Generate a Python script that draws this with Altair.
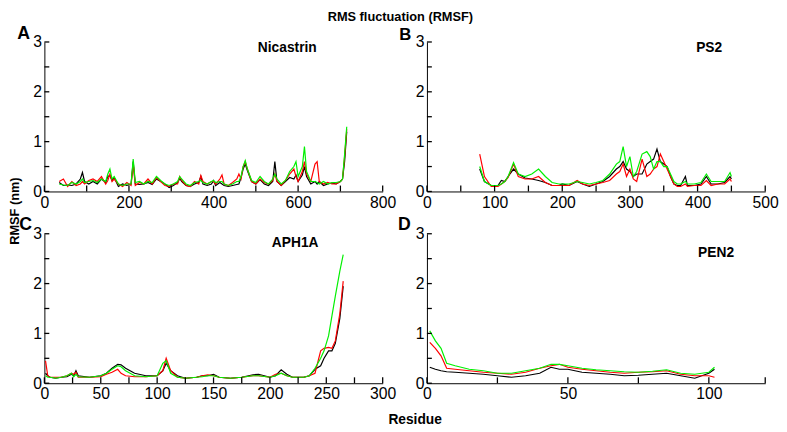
import altair as alt
import pandas as pd

FONT = "Liberation Sans"
W, H = 344, 152

# ---------------- data ----------------
NIC_X = [35, 45, 55, 65, 75, 85, 90, 95, 105, 115,
         125, 135, 145, 150, 155, 160, 165, 175, 185, 195,
         205, 210, 215, 225, 235, 245, 255, 265, 275, 285,
         295, 305, 315, 320, 325, 335, 345, 355, 365, 370,
         375, 385, 395, 400, 405, 415, 420, 425, 435, 445,
         455, 460, 465, 470, 475, 480, 490, 500, 510, 520,
         530, 540, 545, 550, 560, 570, 580, 590, 595, 600,
         610, 615, 620, 630, 640, 645, 650, 660, 670, 680,
         690, 700, 705, 710, 715]
NIC_BLACK = [0.18, 0.12, 0.13, 0.12, 0.15, 0.25, 0.38, 0.2, 0.15, 0.2,
             0.15, 0.25, 0.18, 0.3, 0.32, 0.22, 0.28, 0.1, 0.15, 0.12,
             0.15, 0.6, 0.15, 0.14, 0.15, 0.18, 0.14, 0.25, 0.2, 0.15,
             0.08, 0.12, 0.18, 0.26, 0.2, 0.12, 0.1, 0.15, 0.18, 0.3,
             0.15, 0.12, 0.15, 0.22, 0.12, 0.18, 0.15, 0.12, 0.1, 0.12,
             0.14, 0.15, 0.28, 0.45, 0.55, 0.42, 0.2, 0.15, 0.24, 0.15,
             0.12, 0.2, 0.6, 0.2, 0.12, 0.2, 0.28, 0.25, 0.33, 0.2,
             0.33, 0.5, 0.3, 0.15, 0.2, 0.15, 0.2, 0.12, 0.15, 0.17,
             0.15, 0.2, 0.25, 0.6, 1.2]
NIC_RED = [0.2, 0.25, 0.1, 0.2, 0.12, 0.15, 0.2, 0.15, 0.22, 0.25,
           0.2, 0.3, 0.15, 0.22, 0.35, 0.2, 0.25, 0.15, 0.1, 0.18,
           0.12, 0.55, 0.12, 0.18, 0.15, 0.25, 0.15, 0.28, 0.2, 0.12,
           0.1, 0.15, 0.15, 0.3, 0.22, 0.12, 0.1, 0.2, 0.15, 0.32,
           0.2, 0.15, 0.2, 0.2, 0.15, 0.25, 0.33, 0.15, 0.12, 0.18,
           0.25, 0.35, 0.25, 0.5, 0.6, 0.45, 0.2, 0.15, 0.25, 0.18,
           0.15, 0.22, 0.35, 0.2, 0.12, 0.22, 0.35, 0.45, 0.3, 0.2,
           0.4, 0.6, 0.35, 0.2, 0.55, 0.6, 0.2, 0.15, 0.18, 0.15,
           0.15, 0.2, 0.25, 0.7, 1.25]
NIC_GREEN = [0.15, 0.13, 0.12, 0.18, 0.15, 0.2, 0.25, 0.18, 0.2, 0.22,
             0.18, 0.25, 0.2, 0.35, 0.45, 0.25, 0.3, 0.15, 0.12, 0.15,
             0.15, 0.65, 0.18, 0.2, 0.15, 0.2, 0.18, 0.3, 0.22, 0.15,
             0.12, 0.15, 0.2, 0.3, 0.25, 0.15, 0.12, 0.18, 0.2, 0.22,
             0.18, 0.15, 0.2, 0.22, 0.18, 0.2, 0.2, 0.15, 0.12, 0.15,
             0.2, 0.2, 0.3, 0.5, 0.62, 0.45, 0.22, 0.18, 0.3, 0.2,
             0.15, 0.25, 0.35, 0.25, 0.15, 0.22, 0.4, 0.5, 0.6, 0.3,
             0.5, 0.9, 0.4, 0.2, 0.2, 0.18, 0.15, 0.2, 0.15, 0.18,
             0.18, 0.2, 0.25, 0.75, 1.3]

PS2_X = [78, 85, 95, 105, 110, 115, 120, 128, 135, 145,
         155, 165, 175, 185, 195, 200, 210, 222, 230, 240,
         250, 260, 270, 280, 285, 290, 295, 300, 305, 310,
         318, 325, 330, 335, 340, 345, 350, 355, 360, 365,
         370, 375, 382, 385, 395, 405, 413, 420, 430, 440,
         448, 450]
PS2_BLACK = [0.45, 0.2, 0.12, 0.12, 0.22, 0.2, 0.3, 0.45, 0.35, 0.27,
             0.25, 0.22, 0.18, 0.12, 0.12, 0.15, 0.12, 0.2, 0.15, 0.1,
             0.15, 0.2, 0.3, 0.45, 0.5, 0.6, 0.45, 0.4, 0.3, 0.35,
             0.35, 0.55, 0.6, 0.65, 0.85, 0.6, 0.55, 0.5, 0.3, 0.15,
             0.12, 0.12, 0.3, 0.12, 0.12, 0.15, 0.3, 0.15, 0.15, 0.18,
             0.3, 0.25]
PS2_RED = [0.75, 0.3, 0.1, 0.1, 0.15, 0.2, 0.28, 0.55, 0.3, 0.25,
           0.25, 0.3, 0.18, 0.12, 0.12, 0.12, 0.12, 0.22, 0.15, 0.12,
           0.15, 0.18, 0.22, 0.35, 0.4, 0.55, 0.3, 0.45, 0.25, 0.2,
           0.65, 0.3, 0.35, 0.45, 0.5, 0.75, 0.6, 0.45, 0.3, 0.15,
           0.1, 0.1, 0.15, 0.1, 0.12, 0.12, 0.22, 0.12, 0.15, 0.15,
           0.25, 0.2]
PS2_GREEN = [0.5, 0.2, 0.12, 0.12, 0.15, 0.2, 0.3, 0.58, 0.35, 0.3,
             0.35, 0.45, 0.3, 0.18, 0.15, 0.15, 0.15, 0.2, 0.18, 0.15,
             0.18, 0.22, 0.35, 0.55, 0.6, 0.9, 0.5, 0.7, 0.3, 0.4,
             0.75, 0.8, 0.7, 0.45, 0.6, 0.6, 0.5, 0.5, 0.35, 0.2,
             0.15, 0.15, 0.2, 0.15, 0.15, 0.18, 0.35, 0.2, 0.2, 0.2,
             0.38, 0.3]

APH_X = [1, 3, 5, 10, 15, 20, 24, 26, 28, 30,
         40, 50, 55, 60, 65, 68, 72, 80, 90, 100,
         105, 108, 112, 118, 125, 135, 140, 145, 150, 155,
         165, 175, 185, 190, 200, 205, 210, 215, 220, 230,
         235, 240, 245, 248, 252, 255, 258, 262, 265]
APH_BLACK = [0.2, 0.15, 0.12, 0.1, 0.12, 0.13, 0.18, 0.15, 0.25, 0.15,
             0.12, 0.15, 0.2, 0.3, 0.38, 0.37, 0.3, 0.2, 0.15, 0.15,
             0.25, 0.4, 0.25, 0.15, 0.1, 0.12, 0.15, 0.15, 0.18, 0.12,
             0.1, 0.12, 0.17, 0.18, 0.12, 0.15, 0.27, 0.18, 0.12, 0.12,
             0.15, 0.28, 0.35, 0.5, 0.65, 0.65, 0.8, 1.3, 1.95]
APH_RED = [0.45, 0.15, 0.12, 0.12, 0.12, 0.15, 0.2, 0.18, 0.22, 0.12,
           0.12, 0.13, 0.18, 0.22, 0.28, 0.2, 0.15, 0.13, 0.13, 0.15,
           0.25, 0.5, 0.25, 0.12, 0.1, 0.12, 0.15, 0.17, 0.15, 0.12,
           0.1, 0.12, 0.15, 0.15, 0.12, 0.18, 0.2, 0.15, 0.12, 0.12,
           0.15, 0.2, 0.65, 0.7, 0.72, 0.7, 0.85, 1.4, 2.05]
APH_GREEN = [0.15, 0.12, 0.12, 0.1, 0.12, 0.15, 0.2, 0.13, 0.18, 0.13,
             0.12, 0.15, 0.2, 0.28, 0.35, 0.33, 0.25, 0.15, 0.13, 0.15,
             0.4, 0.45, 0.2, 0.12, 0.1, 0.12, 0.13, 0.15, 0.15, 0.12,
             0.1, 0.12, 0.15, 0.15, 0.12, 0.15, 0.2, 0.15, 0.12, 0.12,
             0.15, 0.3, 0.5, 0.65, 0.95, 1.35, 1.75, 2.25, 2.58]

PEN_X = [1, 3, 5, 7, 10, 15, 20, 25, 30, 35,
         40, 44, 47, 50, 55, 60, 65, 70, 75, 80,
         85, 90, 95, 100, 102]
PEN_BLACK = [0.32, 0.28, 0.25, 0.23, 0.22, 0.2, 0.18, 0.15, 0.12, 0.15,
             0.2, 0.32, 0.28, 0.28, 0.22, 0.2, 0.18, 0.15, 0.16, 0.18,
             0.2, 0.15, 0.1, 0.2, 0.28]
PEN_RED = [0.82, 0.7, 0.55, 0.3, 0.28, 0.25, 0.22, 0.2, 0.18, 0.22,
           0.3, 0.35, 0.38, 0.32, 0.28, 0.25, 0.22, 0.2, 0.22, 0.23,
           0.25, 0.18, 0.15, 0.15, 0.12]
PEN_GREEN = [1.05, 0.85, 0.7, 0.4, 0.35, 0.28, 0.25, 0.2, 0.2, 0.25,
             0.3, 0.38, 0.38, 0.35, 0.3, 0.27, 0.25, 0.23, 0.22, 0.24,
             0.27, 0.2, 0.18, 0.22, 0.32]

SERIES = ["black", "red", "green"]
COLORS = ["#000000", "#ff0000", "#00f000"]

Y_LABELS = [0, 1, 2, 3]
Y_TICKS = [0, 0.5, 1, 1.5, 2, 2.5, 3]


def long_df(xs, blk, red, grn):
    rows = []
    for name, vals in zip(SERIES, [blk, red, grn]):
        for i, (x, y) in enumerate(zip(xs, vals)):
            rows.append({"x": x, "y": y, "s": name, "o": i})
    return pd.DataFrame(rows)


def text_layer(txt, x, y, size, angle=0, align="center", baseline="alphabetic"):
    return alt.Chart(pd.DataFrame({"t": [txt]})).mark_text(
        font=FONT, fontSize=size, fontWeight="bold", color="black",
        align=align, baseline=baseline, angle=angle
    ).encode(text="t:N", x=alt.value(x), y=alt.value(y))


def panel(xs, blk, red, grn, xmax, xlabels, xticks, texts):
    sx = alt.Scale(domain=[0, xmax], nice=False, zero=False)
    sy = alt.Scale(domain=[0, 3], nice=False)
    common = dict(ticks=False, tickSize=0, grid=False,
                  labelFont=FONT, labelFontSize=16, labelColor="black",
                  labelPadding=3, labelFlush=False, labelOverlap=False,
                  domainColor="black", domainWidth=1, title=None)
    xaxis = alt.Axis(values=xlabels, **common)
    yaxis = alt.Axis(values=Y_LABELS, **common)
    lines = alt.Chart(long_df(xs, blk, red, grn)).mark_line(strokeWidth=1.2).encode(
        x=alt.X("x:Q", scale=sx, axis=xaxis),
        y=alt.Y("y:Q", scale=sy, axis=yaxis),
        color=alt.Color("s:N", scale=alt.Scale(domain=SERIES, range=COLORS), legend=None),
        order="o:Q",
    )
    xt = alt.Chart(pd.DataFrame({"x": xticks})).mark_rule(color="black", strokeWidth=1.3).encode(
        x=alt.X("x:Q", scale=sx, axis=xaxis),
        y=alt.value(H), y2=alt.value(H - 6),
    )
    yt = alt.Chart(pd.DataFrame({"y": Y_TICKS})).mark_rule(color="black", strokeWidth=1.3).encode(
        y=alt.Y("y:Q", scale=sy, axis=yaxis),
        x=alt.value(0), x2=alt.value(5),
    )
    layers = [lines, xt, yt] + [text_layer(*t) for t in texts]
    return alt.layer(*layers).properties(width=W, height=H)


pa = panel(NIC_X, NIC_BLACK, NIC_RED, NIC_GREEN, 800,
           [0, 200, 400, 600, 800], [0, 100, 200, 300, 400, 500, 600, 700, 800],
           [("Nicastrin", 247, 10, 14),
            ("A", -21, -3, 18),
            ("RMS fluctuation (RMSF)", 362, -21, 13)])
pb = panel(PS2_X, PS2_BLACK, PS2_RED, PS2_GREEN, 500,
           [0, 100, 200, 300, 400, 500], [0, 50, 100, 150, 200, 250, 300, 350, 400, 450, 500],
           [("PS2", 287, 10, 14),
            ("B", -22, -2, 17)])
pc = panel(APH_X, APH_BLACK, APH_RED, APH_GREEN, 300,
           [0, 50, 100, 150, 200, 250, 300], [0, 25, 50, 75, 100, 125, 150, 175, 200, 225, 250, 275, 300],
           [("APH1A", 255, 13, 14),
            ("C", -19, -4, 18),
            ("RMSF (nm)", -30, -23, 13, 270, "center", "middle"),
            ("Residue", 377, H + 41, 14)])
pd_ = panel(PEN_X, PEN_BLACK, PEN_RED, PEN_GREEN, 120,
            [0, 50, 100], [0, 25, 50, 75, 100, 120],
            [("PEN2", 294, 24, 14),
             ("D", -23, -4, 18)])

chart = alt.concat(pa, pb, pc, pd_, columns=2, spacing={"row": 43, "column": 45}).properties(
    bounds="flush", padding=0
).configure_view(stroke=None)

chart.save("out.html", embed_options={"renderer": "svg", "actions": False})
